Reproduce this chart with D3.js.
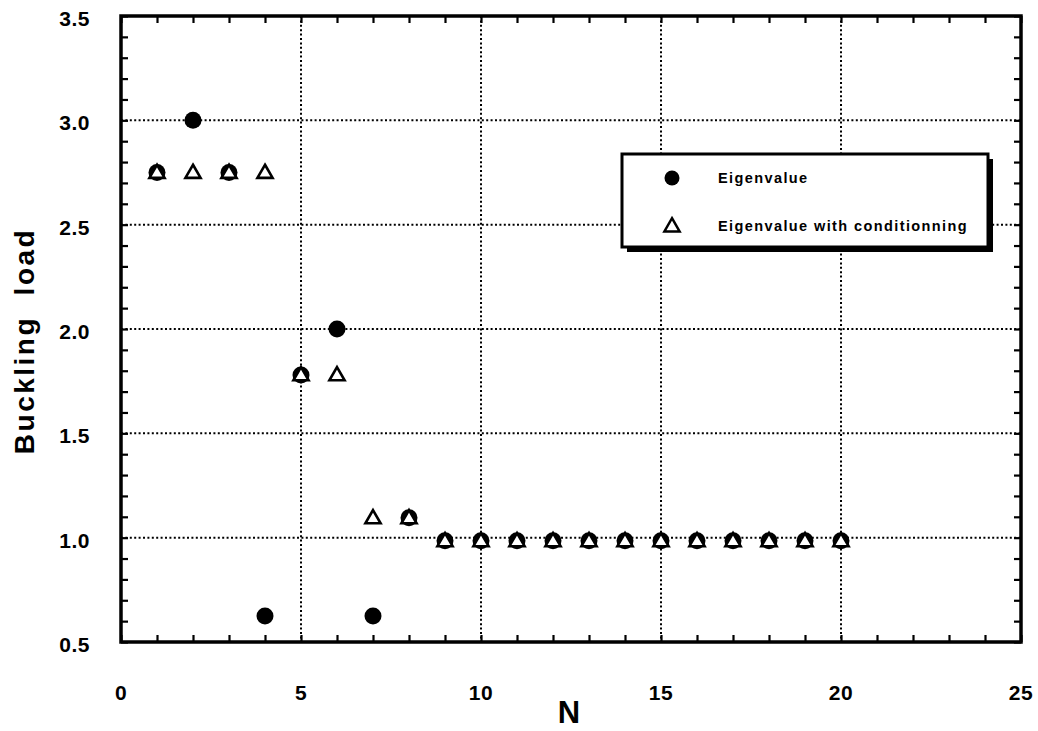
<!DOCTYPE html>
<html>
<head>
<meta charset="utf-8">
<script src="https://cdn.jsdelivr.net/npm/d3@7"></script>
<style>
  body { margin: 0; background: #fff; }
  text { font-family: "Liberation Sans", Arial, sans-serif; fill: #000; }
</style>
</head>
<body>
<svg id="chart" width="1038" height="731"></svg>
<script>
// data
const nValues = [1, 2, 3, 4, 5, 6, 7, 8, 9, 10, 11, 12, 13, 14, 15, 16, 17, 18, 19, 20];
const eigenvalue = [2.75, 3.0, 2.75, 0.625, 1.78, 2.0, 0.625, 1.095, 0.985, 0.985, 0.985, 0.985,
                    0.985, 0.985, 0.985, 0.985, 0.985, 0.985, 0.985, 0.985];
const conditioned = [2.75, 2.75, 2.75, 2.75, 1.78, 1.78, 1.095, 1.095, 0.985, 0.985, 0.985, 0.985,
                     0.985, 0.985, 0.985, 0.985, 0.985, 0.985, 0.985, 0.985];
const xTicks = [0, 5, 10, 15, 20, 25];
const yTicks = [0.5, 1.0, 1.5, 2.0, 2.5, 3.0, 3.5];
const legendLabels = ["Eigenvalue", "Eigenvalue with conditionning"];

const plotLeft = 121, plotRight = 1021, plotTop = 16, plotBottom = 642;

const svg = d3.select("#chart");

const x = d3.scaleLinear().domain([0, 25]).range([plotLeft, plotRight]);
const y = d3.scaleLinear().domain([0.5, 3.5]).range([plotBottom, plotTop]);

// dotted grid at major ticks
svg.append("g")
  .selectAll("line")
  .data(xTicks.filter(d => d > 0 && d < 25))
  .enter()
  .append("line")
    .attr("x1", d => x(d)).attr("x2", d => x(d))
    .attr("y1", plotTop).attr("y2", plotBottom)
    .attr("stroke", "#000")
    .attr("stroke-width", 2)
    .attr("stroke-dasharray", "2,2.4");

svg.append("g")
  .selectAll("line")
  .data(yTicks.filter(d => d > 0.5 && d < 3.5))
  .enter()
  .append("line")
    .attr("x1", plotLeft).attr("x2", plotRight)
    .attr("y1", d => y(d)).attr("y2", d => y(d))
    .attr("stroke", "#000")
    .attr("stroke-width", 2)
    .attr("stroke-dasharray", "2,2.4");

// inner ticks on all four sides
const xMinor = d3.range(0, 26, 1);
const yMinor = d3.range(0, 31).map(i => 0.5 + i * 0.1);

const axisBottom = d3.axisBottom(x).tickValues(xMinor).tickSize(-7).tickFormat("");
const axisTop = d3.axisTop(x).tickValues(xMinor).tickSize(-7).tickFormat("");
const axisLeft = d3.axisLeft(y).tickValues(yMinor).tickSize(-7).tickFormat("");
const axisRight = d3.axisRight(y).tickValues(yMinor).tickSize(-7).tickFormat("");

function styleAxis(g) {
  g.select(".domain").remove();
  g.selectAll(".tick line").attr("stroke", "#000").attr("stroke-width", 2.2);
}

svg.append("g").attr("transform", `translate(0,${plotBottom})`).call(axisBottom).call(styleAxis);
svg.append("g").attr("transform", `translate(0,${plotTop})`).call(axisTop).call(styleAxis);
svg.append("g").attr("transform", `translate(${plotLeft},0)`).call(axisLeft).call(styleAxis);
svg.append("g").attr("transform", `translate(${plotRight},0)`).call(axisRight).call(styleAxis);

// frame
svg.append("rect")
  .attr("x", plotLeft).attr("y", plotTop)
  .attr("width", plotRight - plotLeft).attr("height", plotBottom - plotTop)
  .attr("fill", "none")
  .attr("stroke", "#000")
  .attr("stroke-width", 3.5);

// tick labels
svg.append("g")
  .selectAll("text")
  .data(xTicks)
  .enter()
  .append("text")
    .attr("x", d => x(d))
    .attr("y", 700)
    .attr("text-anchor", "middle")
    .style("font-size", "21px")
    .style("font-weight", "bold")
    .style("letter-spacing", "0.5px")
    .text(d => d);

svg.append("g")
  .selectAll("text")
  .data(yTicks)
  .enter()
  .append("text")
    .attr("x", 90)
    .attr("y", d => y(d) + 10)
    .attr("text-anchor", "end")
    .style("font-size", "21px")
    .style("font-weight", "bold")
    .style("letter-spacing", "0.5px")
    .text(d => d.toFixed(1));

// axis titles
svg.append("text")
  .attr("x", 569)
  .attr("y", 723)
  .attr("text-anchor", "middle")
  .style("font-size", "31px")
  .style("font-weight", "bold")
  .text("N");

svg.append("text")
  .attr("transform", "translate(34,341) rotate(-90)")
  .attr("text-anchor", "middle")
  .style("font-size", "28px")
  .style("font-weight", "bold")
  .style("letter-spacing", "2.5px")
  .style("white-space", "pre")
  .text("Buckling  load");

// markers
const triangle = d3.symbol().type(d3.symbolTriangle).size(100);

svg.append("g")
  .selectAll("circle")
  .data(nValues.map((n, i) => ({ n: n, v: eigenvalue[i] })))
  .enter()
  .append("circle")
    .attr("cx", d => x(d.n))
    .attr("cy", d => y(d.v))
    .attr("r", 8.5)
    .attr("fill", "#000");

svg.append("g")
  .selectAll("path")
  .data(nValues.map((n, i) => ({ n: n, v: conditioned[i] })))
  .enter()
  .append("path")
    .attr("d", triangle)
    .attr("transform", d => `translate(${x(d.n)},${y(d.v) + 1})`)
    .attr("fill", "#fff")
    .attr("stroke", "#000")
    .attr("stroke-width", 2.6)
    .attr("stroke-linejoin", "miter");

// legend with drop shadow
const legend = svg.append("g");
legend.append("rect")
  .attr("x", 627).attr("y", 159)
  .attr("width", 366).attr("height", 93)
  .attr("fill", "#000");
legend.append("rect")
  .attr("x", 622).attr("y", 154)
  .attr("width", 366).attr("height", 93)
  .attr("fill", "#fff")
  .attr("stroke", "#000")
  .attr("stroke-width", 3);

legend.append("circle")
  .attr("cx", 672).attr("cy", 178)
  .attr("r", 7.5)
  .attr("fill", "#000");
legend.append("path")
  .attr("d", triangle)
  .attr("transform", "translate(672,227)")
  .attr("fill", "#fff")
  .attr("stroke", "#000")
  .attr("stroke-width", 2.5);

legend.selectAll("text.leg")
  .data(legendLabels)
  .enter()
  .append("text")
    .attr("class", "leg")
    .attr("x", 718)
    .attr("y", (d, i) => 183 + i * 48)
    .style("font-size", "14.5px")
    .style("font-weight", "bold")
    .style("letter-spacing", "1.4px")
    .text(d => d);
</script>
</body>
</html>
